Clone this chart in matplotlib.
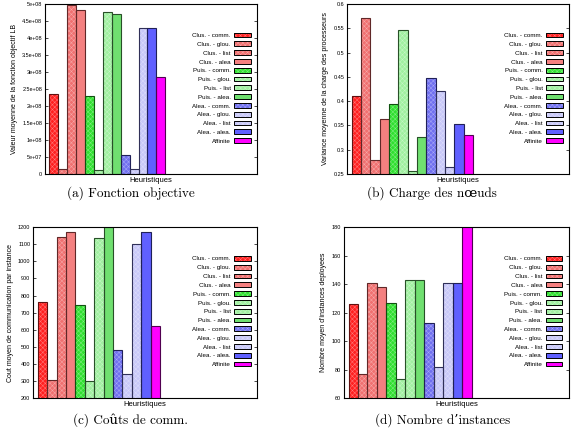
import matplotlib
matplotlib.use("Agg")
import matplotlib.pyplot as plt
from matplotlib.patches import Patch
from matplotlib.legend_handler import HandlerTuple
from matplotlib.ticker import FuncFormatter

plt.rcParams['font.family'] = ['Liberation Sans', 'DejaVu Sans']
plt.rcParams['hatch.linewidth'] = 0.35

# Heuristic names and styles (gnuplot-like)
labels = ["Clus. - comm.", "Clus. - glou.", "Clus. - list", "Clus. - alea",
          "Puis. - comm.", "Puis. - glou.", "Puis. - list", "Puis. - alea.",
          "Alea. - comm.", "Alea. - glou.", "Alea. - list", "Alea. - alea.",
          "Affinite"]
colors = ["#ff2020", "#f07070", "#f07070", "#f48080",
          "#30e030", "#a0f0a0", "#a0f0a0", "#70e070",
          "#7070f0", "#c8c8f8", "#c8c8f8", "#6060ff",
          "#ff00ff"]
edges = ["#601010", "#602828", "#602828", "#602828",
         "#105010", "#285028", "#285028", "#285028",
         "#202058", "#303058", "#303058", "#202058",
         "#500050"]
hatches = ["xxxxxxx", "xxxxxxx", "xxxxxxx", None,
           "xxxxxxx", "xxxxxxx", "xxxxxxx", None,
           "xxxxxxx", "xxxxxxx", "xxxxxxx", None,
           None]

# Values
obj_values = [2.35e8, 0.15e8, 4.97e8, 4.83e8, 2.30e8, 0.12e8, 4.76e8, 4.70e8,
              0.55e8, 0.15e8, 4.30e8, 4.30e8, 2.85e8]
load_values = [0.411, 0.570, 0.278, 0.363, 0.395, 0.546, 0.256, 0.326,
               0.447, 0.421, 0.265, 0.352, 0.330]
comm_values = [762, 305, 1140, 1170, 743, 300, 1135, 1198,
               483, 338, 1100, 1170, 622]
inst_values = [126, 77, 140.5, 138, 127, 73.5, 143, 143,
               113, 81.5, 140.5, 141, 182]

panels = [
    dict(values=obj_values, ylim=(0, 5e8), step=5e7,
         ylabel="Valeur moyenne de la fonction objectif LB",
         caption="(a) Fonction objective",
         rect=[0.0785, 0.601, 0.370, 0.390], cap_xy=(0.229, 0.557)),
    dict(values=load_values, ylim=(0.25, 0.6), step=0.05,
         ylabel="Variance moyenne de la charge des processeurs",
         caption="(b) Charge des n\u0153uds",
         rect=[0.6056, 0.601, 0.3874, 0.390], cap_xy=(0.754, 0.557)),
    dict(values=comm_values, ylim=(200, 1200), step=100,
         ylabel="Cout moyen de communication par instance",
         caption="(c) Co\u00fbts de comm.",
         rect=[0.0576, 0.087, 0.391, 0.392], cap_xy=(0.227, 0.037)),
    dict(values=inst_values, ylim=(60, 180), step=20,
         ylabel="Nombre moyen d'instances deployees",
         caption="(d) Nombre d\u2019instances",
         rect=[0.600, 0.087, 0.393, 0.392], cap_xy=(0.773, 0.037)),
]

fig = plt.figure(figsize=(5.73, 4.36), dpi=100)

for p in panels:
    ax = fig.add_axes(p["rect"])
    x = list(range(len(labels)))
    # colour fill, white hatch lines on top, then the dark outline
    ax.bar(x, p["values"], width=1.0, color=colors, linewidth=0)
    for i in x:
        if hatches[i]:
            ax.bar(i, p["values"][i], width=1.0, color="none",
                   edgecolor="white", hatch=hatches[i], linewidth=0, alpha=0.4)
    ax.bar(x, p["values"], width=1.0, fill=False, edgecolor=edges, linewidth=0.8)

    ax.set_xlim(-1.0, 22.8)
    ax.set_ylim(*p["ylim"])
    lo, hi = p["ylim"]
    n = int(round((hi - lo) / p["step"]))
    ax.set_yticks([lo + k * p["step"] for k in range(n + 1)])
    ax.yaxis.set_major_formatter(FuncFormatter(lambda v, pos: "%g" % round(v, 6)))
    ax.set_xticks([])
    ax.tick_params(axis="y", direction="in", right=True, labelsize=4,
                   length=2, width=0.5, pad=2)
    for s in ax.spines.values():
        s.set_linewidth(0.8)
    ax.set_xlabel("Heuristiques", fontsize=5.5, labelpad=2)
    ax.set_ylabel(p["ylabel"], fontsize=5, labelpad=3)

    handles = []
    for i in range(len(labels)):
        base = Patch(facecolor=colors[i], edgecolor="none")
        if hatches[i]:
            h = Patch(facecolor="none", edgecolor="white", hatch=hatches[i],
                      linewidth=0, alpha=0.4)
        else:
            h = Patch(facecolor="none", edgecolor="none")
        outline = Patch(facecolor="none", edgecolor="black", linewidth=0.7)
        handles.append((base, h, outline))
    ax.legend(handles, labels, loc="upper right", bbox_to_anchor=(0.985, 0.85),
              frameon=False, markerfirst=False, fontsize=4.5,
              handlelength=2.6, handleheight=0.8, labelspacing=0.52,
              handletextpad=0.6, borderpad=0,
              handler_map={tuple: HandlerTuple(ndivide=1, pad=0)})

    fig.text(p["cap_xy"][0], p["cap_xy"][1], p["caption"],
             ha="center", va="center", fontsize=9.5,
             family=["cmr10", "DejaVu Serif"])

fig.savefig("out.png", dpi=100)
